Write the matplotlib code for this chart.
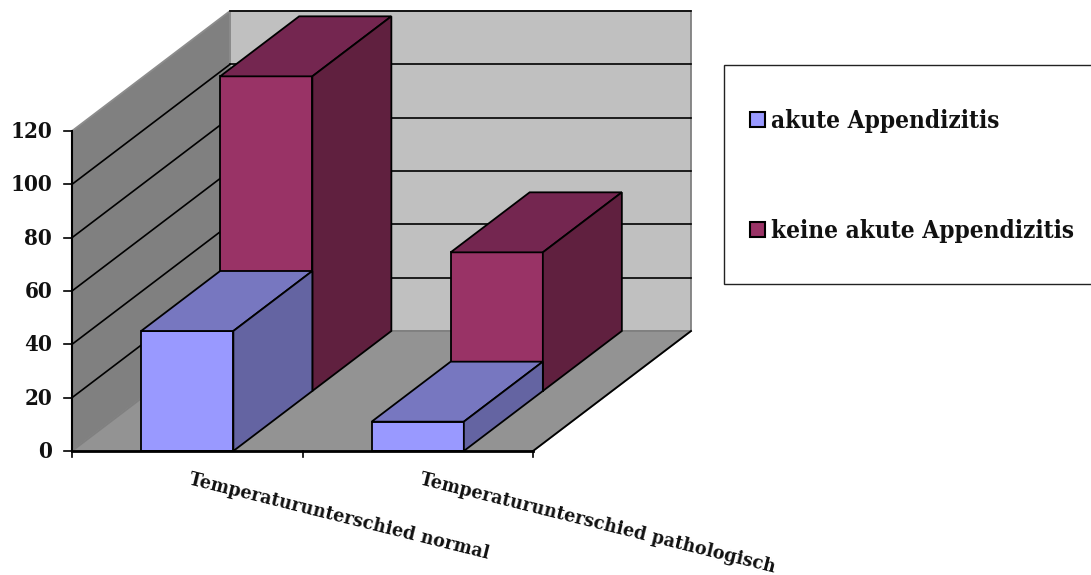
import matplotlib
matplotlib.use('Agg')
import matplotlib.pyplot as plt
from matplotlib.patches import Polygon, Rectangle

# Werte
categories = ['Temperaturunterschied normal', 'Temperaturunterschied pathologisch']
series_names = ['akute Appendizitis', 'keine akute Appendizitis']
akut = [45, 11]
keine_akut = [118, 52]
yticks = [0, 20, 40, 60, 80, 100, 120]
ymax = 120

# Geometrie des 3D-Diagramms in Pixeln
X0, X1 = 72, 533
Y0, Y1 = 451, 131
DX, DY = 158, -120
GAP = 0.3
BAR_W = 0.4

front_cols = ['#9999FF', '#993366']
top_cols = ['#7777C0', '#742650']
side_cols = ['#6464A2', '#60203F']
FONT = dict(family='DejaVu Serif', stretch='condensed', weight='bold', color='#111111')


def proj(x, v, d):
    # x in Kategorien, v Wert, d Tiefe 0..1
    px = X0 + x * (X1 - X0) / len(categories) + d * DX
    py = Y0 + v * (Y1 - Y0) / ymax + d * DY
    return px, py


def poly(ax, pts, fc, ec='black', lw=1.3, z=2):
    ax.add_patch(Polygon(pts, closed=True, fc=fc, ec=ec, lw=lw, zorder=z, joinstyle='miter'))


def draw_bar(ax, i, val, d0, d1, s, z):
    a, b = i + GAP, i + GAP + BAR_W
    poly(ax, [proj(a, 0, d0), proj(b, 0, d0), proj(b, val, d0), proj(a, val, d0)], front_cols[s], z=z)
    poly(ax, [proj(a, val, d0), proj(b, val, d0), proj(b, val, d1), proj(a, val, d1)], top_cols[s], z=z)
    poly(ax, [proj(b, 0, d0), proj(b, 0, d1), proj(b, val, d1), proj(b, val, d0)], side_cols[s], z=z)


fig = plt.figure(figsize=(10.91, 5.75), dpi=100)
ax = fig.add_axes([0, 0, 1, 1])
ax.set_xlim(0, 1091)
ax.set_ylim(575, 0)
ax.axis('off')

n = len(categories)
# Wände und Boden
poly(ax, [proj(0, 0, 1), proj(n, 0, 1), proj(n, ymax, 1), proj(0, ymax, 1)], '#C0C0C0', ec='#808080', z=1)
poly(ax, [proj(0, 0, 0), proj(0, 0, 1), proj(0, ymax, 1), proj(0, ymax, 0)], '#808080', ec='#8c8c8c', z=1)
poly(ax, [proj(0, 0, 0), proj(n, 0, 0), proj(n, 0, 1), proj(0, 0, 1)], '#939393', ec='#808080', z=1)

# Gitterlinien
for v in yticks[1:]:
    if v < ymax:
        ax.plot(*zip(proj(0, v, 0), proj(0, v, 1)), color='black', lw=1.2, zorder=1.5)
    ax.plot(*zip(proj(0, v, 1), proj(n, v, 1)), color='black', lw=1.2, zorder=1.5)

# Balken, hintere Reihe zuerst
for i in range(n):
    draw_bar(ax, i, keine_akut[i], 0.5, 1.0, 1, 2 + i)
for i in range(n):
    draw_bar(ax, i, akut[i], 0.0, 0.5, 0, 4 + i)

# Achsen
ax.plot(*zip(proj(0, 0, 0), proj(0, ymax, 0)), color='black', lw=1.5, zorder=6)
ax.plot(*zip(proj(0, 0, 0), proj(n, 0, 0)), color='black', lw=2, zorder=6)
ax.plot(*zip(proj(n, 0, 0), proj(n, 0, 1)), color='black', lw=1.3, zorder=6)
for v in yticks:
    x, y = proj(0, v, 0)
    ax.plot([x - 8, x], [y, y], color='black', lw=1.2, zorder=6)
    ax.text(x - 20, y + 1, str(v), ha='right', va='center', fontsize=16, **FONT)
for i in range(n + 1):
    x, y = proj(i, 0, 0)
    ax.plot([x, x], [y, y + 6], color='black', lw=1.2, zorder=6)

# Kategorien, schräg
for i, lab in enumerate(categories):
    x, y = proj(i + 0.5, 0, 0)
    ax.text(x + 1, y + 33, lab, rotation=-14, rotation_mode='anchor', ha='left', va='baseline', fontsize=14, **FONT)

# Legende
ax.add_patch(Rectangle((724, 65), 370, 219, fc='white', ec='#222222', lw=1, zorder=7))
for s, (name, base) in enumerate(zip(series_names, [128, 238])):
    ax.add_patch(Rectangle((749.5, base - 16), 15, 15, fc=front_cols[s], ec='black', lw=1.5, zorder=8))
    ax.text(771, base, name, ha='left', va='baseline', fontsize=17.5, zorder=8, **FONT)

fig.savefig('out.png', dpi=100)
